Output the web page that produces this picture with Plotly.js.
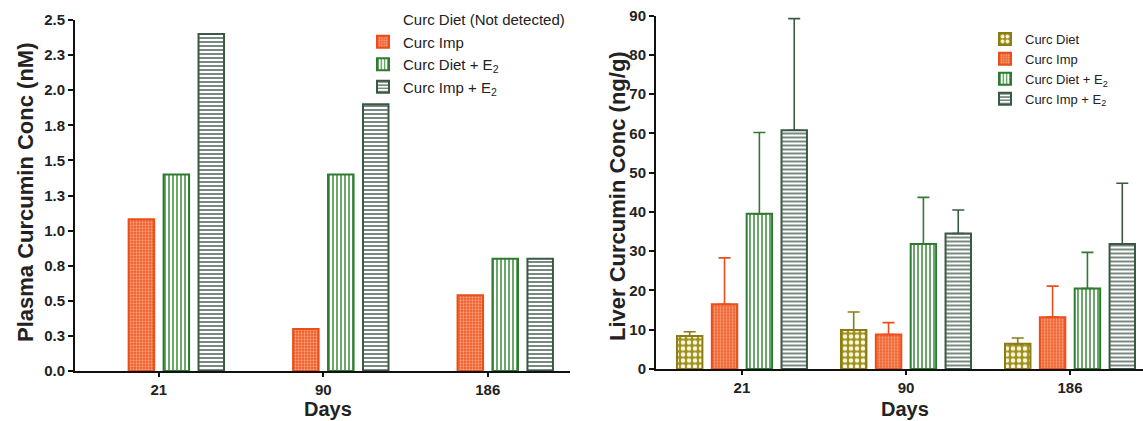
<!DOCTYPE html>
<html>
<head>
<meta charset="utf-8">
<script src="https://cdn.plot.ly/plotly-3.0.1.min.js"></script>
<style>html,body{margin:0;padding:0;background:#fff;}#chart{width:1143px;height:421px;}</style>
</head>
<body>
<div id="chart"></div>
<script>
// Categories (days)
const days = ['21', '90', '186'];
const dayPos = [0, 1, 2];

// Plasma (nM) - left panel
const plasmaCurcDiet = [0, 0, 0]; // not detected
const plasmaCurcImp = [1.08, 0.30, 0.54];
const plasmaCurcDietE2 = [1.40, 1.40, 0.80];
const plasmaCurcImpE2 = [2.40, 1.90, 0.80];
const plasmaTickVals = [0, 0.25, 0.5, 0.75, 1.0, 1.25, 1.5, 1.75, 2.0, 2.25, 2.5];
const plasmaTickText = ['0.0', '0.3', '0.5', '0.8', '1.0', '1.3', '1.5', '1.8', '2.0', '2.3', '2.5'];

// Liver (ng/g) - right panel, mean and upper error
const liverCurcDiet = [8.4, 9.9, 6.4];
const liverCurcDietErr = [1.1, 4.6, 1.5];
const liverCurcImp = [16.5, 8.8, 13.2];
const liverCurcImpErr = [11.8, 3.0, 7.9];
const liverCurcDietE2 = [39.5, 31.8, 20.5];
const liverCurcDietE2Err = [20.7, 11.9, 9.2];
const liverCurcImpE2 = [60.8, 34.5, 31.8];
const liverCurcImpE2Err = [28.4, 6.0, 15.5];
const liverTickVals = [0, 10, 20, 30, 40, 50, 60, 70, 80, 90];
const zeros = [0, 0, 0];

const C = {
  olive: {bg: '#9E9020', fg: '#FBF7D8', line: '#8A7C16'},
  orange: {bg: '#EF5A26', fg: '#F9A07A', line: '#E94E1C'},
  green: {bg: '#FFFFFF', fg: '#3C8E3C', line: '#2E7A30'},
  dark: {bg: '#FFFFFF', fg: '#5E7466', line: '#3B5843'}
};

function bar(name, y, col, shape, size, sol, xa, ya, legend, err) {
  const t = {
    type: 'bar', name: name, x: dayPos, y: y, xaxis: xa, yaxis: ya, legend: legend,
    marker: {
      color: col.bg,
      line: {color: col.line, width: 2},
      pattern: {shape: shape, bgcolor: col.bg, fgcolor: col.fg, size: size, solidity: sol, fillmode: 'replace'}
    },
    hoverinfo: 'skip'
  };
  if (err) {
    t.error_y = {type: 'data', array: err, arrayminus: zeros, symmetric: false,
      color: col.line, thickness: 1.6, width: 6};
  }
  return t;
}

const data = [
  {type: 'bar', name: 'Curc Diet (Not detected)', x: dayPos, y: plasmaCurcDiet, xaxis: 'x', yaxis: 'y',
    legend: 'legend', marker: {color: 'rgba(0,0,0,0)', line: {width: 0}}, hoverinfo: 'skip'},
  bar('Curc Imp', plasmaCurcImp, C.orange, '.', 3, 0.45, 'x', 'y', 'legend'),
  bar('Curc Diet + E<sub>2</sub>', plasmaCurcDietE2, C.green, '|', 4, 0.38, 'x', 'y', 'legend'),
  bar('Curc Imp + E<sub>2</sub>', plasmaCurcImpE2, C.dark, '-', 4, 0.42, 'x', 'y', 'legend'),

  bar('Curc Diet', liverCurcDiet, C.olive, '.', 6, 0.45, 'x2', 'y2', 'legend2', liverCurcDietErr),
  bar('Curc Imp', liverCurcImp, C.orange, '.', 3, 0.45, 'x2', 'y2', 'legend2', liverCurcImpErr),
  bar('Curc Diet + E<sub>2</sub>', liverCurcDietE2, C.green, '|', 4, 0.38, 'x2', 'y2', 'legend2', liverCurcDietE2Err),
  bar('Curc Imp + E<sub>2</sub>', liverCurcImpE2, C.dark, '-', 4, 0.42, 'x2', 'y2', 'legend2', liverCurcImpE2Err)
];

const FAM = 'Liberation Sans, Arial, sans-serif';
const tickFont = {family: FAM, size: 15, color: '#222', weight: 'bold'};
const xTickFont = {family: FAM, size: 15, color: '#222', weight: 'bold'};
const titleFont = {family: FAM, size: 22, color: '#222', weight: 'bold'};
const daysFont = {family: FAM, size: 20, color: '#222', weight: 'bold'};

const xCommon = {
  tickmode: 'array', tickvals: dayPos, ticktext: days,
  showline: true, linecolor: '#111', linewidth: 2,
  ticks: 'outside', ticklen: 4, tickwidth: 2, tickcolor: '#111',
  showgrid: false, zeroline: false, tickfont: xTickFont, fixedrange: true
};
const yCommon = {
  showline: true, linecolor: '#111', linewidth: 2,
  ticks: 'outside', ticklen: 5, tickwidth: 2, tickcolor: '#111',
  showgrid: false, zeroline: false, tickfont: tickFont, fixedrange: true
};

function yTitle(text, xpx, ypx) {
  return {text: text, textangle: -90, xref: 'paper', yref: 'paper',
    x: xpx / 1143, y: 1 - ypx / 421, xanchor: 'center', yanchor: 'middle',
    showarrow: false, font: titleFont};
}
function xTitle(text, xpx) {
  return {text: text, xref: 'paper', yref: 'paper', x: xpx / 1143, y: 0,
    xanchor: 'center', yanchor: 'bottom', borderpad: 0, showarrow: false, font: daysFont};
}

const layout = {
  width: 1143, height: 421,
  margin: {l: 0, r: 0, t: 0, b: 0},
  paper_bgcolor: '#ffffff', plot_bgcolor: 'rgba(0,0,0,0)',
  barmode: 'group', bargap: 0.15, bargroupgap: 0.27,
  showlegend: true,
  xaxis: Object.assign({}, xCommon, {domain: [75/1143, 570/1143], range: [-0.51, 2.5], anchor: 'y'}),
  yaxis: Object.assign({}, yCommon, {domain: [50/421, 401/421], range: [0, 2.5], anchor: 'x',
    tickmode: 'array', tickvals: plasmaTickVals, ticktext: plasmaTickText}),
  xaxis2: Object.assign({}, xCommon, {domain: [656/1143, 1], range: [-0.524, 2.445], anchor: 'y2'}),
  yaxis2: Object.assign({}, yCommon, {domain: [52/421, 405.5/421], range: [0, 90], anchor: 'x2',
    tickmode: 'array', tickvals: liverTickVals}),
  annotations: [
    yTitle('Plasma Curcumin Conc (nM)', 25, 193),
    yTitle('Liver Curcumin Conc (ng/g)', 617, 196),
    xTitle('Days', 328),
    xTitle('Days', 905)
  ],
  legend: {x: 363/1143, y: 1 - 3/421, xanchor: 'left', yanchor: 'top', bgcolor: 'rgba(0,0,0,0)',
    font: {family: FAM, size: 15, color: '#222'}, tracegroupgap: 0, traceorder: 'normal'},
  legend2: {x: 985/1143, y: 1 - 24/421, xanchor: 'left', yanchor: 'top', bgcolor: 'rgba(0,0,0,0)',
    font: {family: FAM, size: 13, color: '#222'}, tracegroupgap: 0, traceorder: 'normal'}
};

Plotly.newPlot('chart', data, layout, {staticPlot: true, displayModeBar: false});
</script>
</body>
</html>
